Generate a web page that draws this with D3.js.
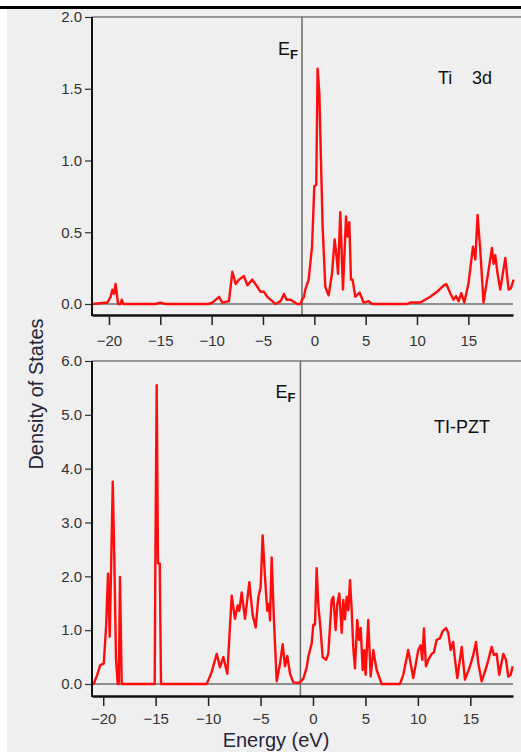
<!DOCTYPE html>
<html lang="en">
<head>
<meta charset="UTF-8">
<title>Density of States</title>
<script src="https://d3js.org/d3.v7.min.js"></script>
<style>
  body {margin: 0; background: #fff;}
  svg {display: block; font-family: "Liberation Sans", Arial, sans-serif;}
</style>
</head>
<body>
<svg id="fig" width="521" height="752"></svg>
<script>
// Ti 3d partial DOS (top panel)
let tiEnergy = [-21.6, -20.16, -19.83, -19.67, -19.5, -19.35, -19.11, -18.89, -18.75, -18.6, -15.48, -15.0, -14.5,
  -10.32, -9.93, -9.28, -8.96, -8.31, -7.98, -7.66, -7.33, -6.85, -6.52, -6.04, -5.55, -5.23, -4.9, -4.58, -4.09,
  -3.77, -3.28, -2.95, -2.7, -2.31, -1.66, -1.33, -1.2, -1.0, -0.88, -0.55, -0.22, 0, 0.19, 0.32, 0.49, 0.65, 0.81,
  1.07, 1.39, 1.72, 1.98, 2.21, 2.31, 2.53, 2.79, 3.09, 3.24, 3.41, 3.57, 3.73, 3.99, 4.41, 4.8, 5.29, 5.62,
  9.03, 9.35, 10.32, 11.3, 11.95, 12.53, 12.85, 13.24, 13.56, 13.8, 14.05, 14.31, 14.61, 15.02, 15.45, 15.68, 15.9,
  16.16, 16.48, 16.87, 17.3, 17.46, 17.62, 17.85, 18.11, 18.6, 18.92, 19.15, 19.41];
let tiDos = [0, 0.01, 0.05, 0.10, 0.07, 0.14, 0, 0, 0.03, 0, 0, 0.01, 0,
  0, 0.01, 0.05, 0.01, 0.02, 0.225, 0.14, 0.17, 0.195, 0.13, 0.17, 0.12, 0.085, 0.085, 0.05, 0.02,
  0, 0.02, 0.07, 0.03, 0.03, 0, 0, 0.03, 0.05, 0.10, 0.17, 0.40, 0.82, 0.83, 1.64, 1.47, 1.0, 0.54,
  0.12, 0.06, 0.21, 0.45, 0.30, 0.21, 0.64, 0.10, 0.61, 0.47, 0.57, 0.17, 0.17, 0.05, 0.08, 0.01, 0.02, 0,
  0, 0.01, 0.01, 0.05, 0.085, 0.125, 0.14, 0.075, 0.03, 0.055, 0.02, 0.075, 0.01, 0.145, 0.40, 0.31, 0.62,
  0.38, 0.01, 0.19, 0.39, 0.28, 0.34, 0.21, 0.10, 0.32, 0.10, 0.11, 0.17];

// Tl-PZT total DOS (bottom panel)
let pztEnergy = [-21.07, -20.91, -20.59, -20.28, -19.95, -19.73, -19.54, -19.38, -19.26, -19.09, -18.94, -18.78,
  -18.62, -18.52, -18.4, -18.24, -15.09, -15.03, -14.9, -14.78, -14.61, -14.49,
  -10.13, -9.66, -9.18, -8.87, -8.55, -8.17, -7.75, -7.44, -7.18, -7.03, -6.8, -6.48, -6.07, -5.75, -5.46, -5.21,
  -4.99, -4.8, -4.58, -4.36, -4.19, -4.1, -3.94, -3.72, -3.46, -3.15, -2.89, -2.67, -2.45, -2.19, -1.88, -1.4,
  -1.24, -0.92, -0.6, -0.45, -0.12, 0.03, 0.19, 0.35, 0.51, 0.73, 0.92, 1.24, 1.46, 1.78, 1.94, 2.16, 2.32, 2.51,
  2.74, 2.89, 3.05, 3.21, 3.37, 3.53, 3.69, 3.84, 4.0, 4.22, 4.39, 4.55, 4.74, 4.89, 5.02, 5.27, 5.5, 5.75, 6.07,
  6.55, 8.29, 8.61, 9.08, 9.56, 10.04, 10.27, 10.42, 10.58, 10.77, 10.99, 11.32, 11.53, 11.79, 12.11, 12.36, 12.68,
  12.9, 13.13, 13.37, 13.54, 13.76, 14.18, 14.49, 14.97, 15.28, 15.54, 15.76, 16.08, 16.56, 17.04, 17.25, 17.51,
  17.76, 18.14, 18.4, 18.62, 18.85, 19.04];
let pztDos = [0, 0, 0.16, 0.35, 0.38, 1.05, 2.05, 0.88, 2.05, 3.76, 2.30, 0.45,
  0, 0, 1.99, 0, 0, 2.3, 5.55, 2.24, 2.24, 0,
  0, 0.22, 0.56, 0.31, 0.5, 0.19, 1.64, 1.21, 1.46, 1.36, 1.70, 1.21, 1.89, 1.28, 1.05, 1.61,
  1.8, 2.76, 2.0, 1.36, 1.49, 1.18, 2.35, 1.18, 0.05, 0.37, 0.74, 0.33, 0.52, 0.19, 0.03, 0.02,
  0.03, 0.1, 0.31, 0.5, 0.76, 1.1, 1.1, 2.15, 1.47, 1.0, 0.5, 0.45, 0.56, 1.56, 1.62, 1.0, 1.49, 1.68,
  0.95, 1.56, 1.2, 1.62, 1.37, 1.93, 1.37, 0.68, 0.29, 1.19, 0.82, 1.04, 0.26, 0.63, 0.17, 1.19, 0.14, 0.63, 0.26,
  0, 0, 0.17, 0.63, 0.11, 0.63, 0.72, 0.45, 1.03, 0.33, 0.45, 0.56, 0.59, 0.82, 0.85, 0.98, 1.04,
  0.95, 0.63, 0.78, 0.45, 0.11, 0.69, 0.08, 0.33, 0.54, 0.78, 0.39, 0.05, 0.33, 0.69, 0.54, 0.56,
  0.17, 0.56, 0.45, 0.14, 0.17, 0.33];

let energyTicks = [-20, -15, -10, -5, 0, 5, 10, 15];
let tiTicks = [0, 0.5, 1.0, 1.5, 2.0];
let pztTicks = [0, 1.0, 2.0, 3.0, 4.0, 5.0, 6.0];
let fermiLevel = -1.2;

let svg = d3.select("#fig");

// background and cropped page edge
svg.append("rect").attr("x", 7).attr("y", 9).attr("width", 514).attr("height", 743).attr("fill", "#efefef");
svg.append("line").attr("x1", 0).attr("x2", 521).attr("y1", 7.5).attr("y2", 7.5)
  .attr("stroke", "#000").attr("stroke-width", 3);

function panel(opt) {
  let x = d3.scaleLinear().domain(opt.xDomain).range([92, 513]);
  let y = d3.scaleLinear().domain(opt.yDomain).range([opt.y0, opt.yTop]);
  let g = svg.append("g");

  // frame top line
  g.append("line").attr("x1", 92).attr("x2", 521).attr("y1", opt.yTop).attr("y2", opt.yTop)
    .attr("stroke", "#7a7a7a").attr("stroke-width", 1.5);
  // zero line
  g.append("line").attr("x1", 92).attr("x2", 513).attr("y1", y(0)).attr("y2", y(0))
    .attr("stroke", "#6e6e6e").attr("stroke-width", 1.5);
  // Fermi level
  g.append("line").attr("x1", x(fermiLevel)).attr("x2", x(fermiLevel))
    .attr("y1", opt.yTop).attr("y2", opt.axisY)
    .attr("stroke", "#6a6a6a").attr("stroke-width", 1.5);

  // curve
  let line = d3.line().x(function (d) { return x(d[0]); }).y(function (d) { return y(d[1]); });
  g.append("path").datum(d3.zip(opt.energy, opt.dos))
    .attr("d", line).attr("fill", "none").attr("stroke", "#ff0d0d")
    .attr("stroke-width", 2.4).attr("stroke-linejoin", "round");

  // x axis
  let xa = g.append("g").attr("transform", "translate(0," + opt.axisY + ")")
    .call(d3.axisBottom(x).tickValues(energyTicks).tickSize(10).tickSizeOuter(0)
      .tickPadding(opt.xPad).tickFormat(d3.format("d")));
  xa.select(".domain").attr("stroke", "#111").attr("stroke-width", 2.5);
  xa.selectAll(".tick line").attr("stroke", "#222").attr("stroke-width", 1.5);
  xa.selectAll("text").attr("font-size", 15).attr("fill", "#333")
    .attr("font-family", "Liberation Sans, Arial, sans-serif");

  // y axis
  let ya = g.append("g").attr("transform", "translate(92,0)")
    .call(d3.axisLeft(y).tickValues(opt.yTicks).tickSize(7).tickPadding(3).tickFormat(d3.format(".1f")));
  ya.select(".domain").remove();
  ya.selectAll(".tick line").attr("stroke", "#333").attr("stroke-width", 1.2);
  ya.selectAll("text").attr("font-size", 15).attr("fill", "#333")
    .attr("font-family", "Liberation Sans, Arial, sans-serif");
  g.append("line").attr("x1", 92).attr("x2", 92).attr("y1", opt.yTop).attr("y2", opt.axisY + 1)
    .attr("stroke", "#111").attr("stroke-width", 2);

  // E_F label
  let ef = g.append("text").attr("x", x(fermiLevel) - opt.efDx).attr("y", opt.efY)
    .attr("font-size", 18).attr("fill", "#111");
  ef.append("tspan").text("E");
  ef.append("tspan").attr("dy", 4).attr("font-size", 13).attr("font-weight", "bold").text("F");

  return g;
}

let topPanel = panel({
  xDomain: [-21.65, 19.35], yDomain: [0, 2], y0: 304, yTop: 17, axisY: 315,
  energy: tiEnergy, dos: tiDos, yTicks: tiTicks, xPad: 10, efDx: 24, efY: 55
});
topPanel.append("text").attr("x", 438).attr("y", 84).attr("font-size", 18).attr("fill", "#111").text("Ti");
topPanel.append("text").attr("x", 472).attr("y", 84).attr("font-size", 18).attr("fill", "#111").text("3d");

let bottomPanel = panel({
  xDomain: [-21.07, 19.07], yDomain: [0, 6], y0: 684, yTop: 361, axisY: 696,
  energy: pztEnergy, dos: pztDos, yTicks: pztTicks, xPad: 7, efDx: 25, efY: 398
});
bottomPanel.append("text").attr("x", 434).attr("y", 433).attr("font-size", 18).attr("fill", "#111").text("TI-PZT");

// axis titles
svg.append("text").attr("x", 276).attr("y", 747).attr("text-anchor", "middle")
  .attr("font-size", 20).attr("fill", "#26263a").text("Energy (eV)");
svg.append("text").attr("transform", "translate(43,394) rotate(-90)").attr("text-anchor", "middle")
  .attr("font-size", 20).attr("fill", "#26263a").text("Density of States");
</script>
</body>
</html>
